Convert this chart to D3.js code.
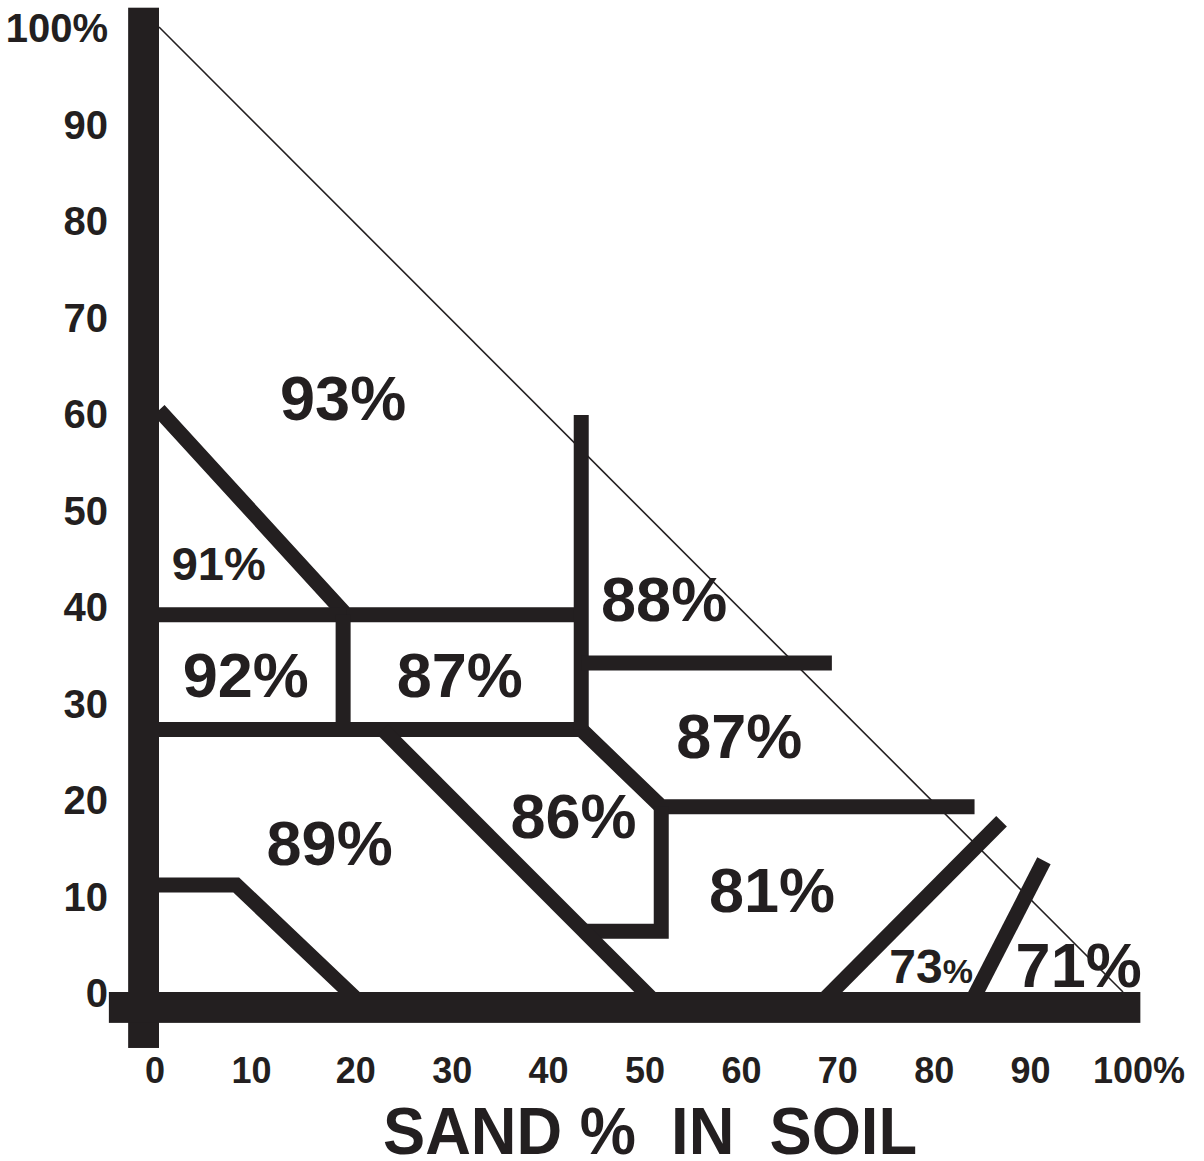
<!DOCTYPE html>
<html>
<head>
<meta charset="utf-8">
<script src="https://cdn.jsdelivr.net/npm/d3@7"></script>
<style>
  html, body { margin: 0; padding: 0; background: #fff; }
  svg { display: block; }
  text { font-family: "Liberation Sans", Arial, Helvetica, sans-serif; font-weight: bold; fill: #231f20; }
</style>
</head>
<body>
<svg id="chart" width="1204" height="1161"></svg>
<script>
// ---- data (sand %, clay %) ----
const yTicks = [0, 10, 20, 30, 40, 50, 60, 70, 80, 90, 100];
const yTickLabels = ["0", "10", "20", "30", "40", "50", "60", "70", "80", "90", "100%"];
const xTicks = [0, 10, 20, 30, 40, 50, 60, 70, 80, 90, 100];
const xTickLabels = ["0", "10", "20", "30", "40", "50", "60", "70", "80", "90", "100%"];
const xTitle = "SAND %  IN  SOIL";

// limit line: sand + clay = 100
const limitLine = [[0, 100], [100, 0]];

// zone boundary polylines
const boundaries = [
  [[0, 60.3], [19.4, 39.1], [43.8, 39.1]],
  [[0, 39.1], [19.4, 39.1]],
  [[19.1, 39.1], [19.1, 27.2]],
  [[0, 27.2], [43.8, 27.2], [52.1, 19.2], [84.6, 19.2]],
  [[43.8, 59.8], [43.8, 27.2]],
  [[43.8, 34.1], [69.8, 34.1]],
  [[44.0, 6.3], [52.1, 6.3], [52.1, 19.2]],
  [[23.2, 27.2], [51.4, -1]],
  [[0, 11.1], [8.0, 11.1], [20.75, -1]],
  [[68.8, -1], [87.4, 17.7]],
  [[84.3, -1], [91.8, 13.6]]
];

// zone labels: text, sand, clay (baseline), size class
const zoneLabels = ["93%", "91%", "92%", "87%", "88%", "87%", "86%", "89%", "81%", "71%"];
const zoneSand   = [19.1, 6.2, 9.0, 31.2, 52.4, 60.2, 43.0, 17.7, 63.6, 95.4];
const zoneClay   = [59.3, 42.7, 30.6, 30.6, 38.4, 24.3, 16.0, 13.2, 8.3, 0.5];
const zoneSize   = ["big", "small", "big", "big", "big", "big", "big", "big", "big", "big"];
// special label with small percent sign
const smallLabel = { num: "73", pct: "%", sand: 80.1, clay: 0.9 };

// axis bar extents (data units)
const yAxisBar = { sand: [-3.2, 0], clay: [-5.8, 102.0] };
const xAxisBar = { sand: [-5.2, 101.8], clay: [-3.2, 0] };

// ---- drawing ----
const ink = "#231f20";
const svg = d3.select("#chart");
const x = d3.scaleLinear().domain([0, 100]).range([159, 1123]);
const y = d3.scaleLinear().domain([0, 100]).range([992, 27]);
const line = d3.line().x(d => x(d[0])).y(d => y(d[1]));

// thin limit diagonal
svg.append("path").attr("d", line(limitLine))
  .attr("fill", "none").attr("stroke", ink).attr("stroke-width", 1.6);

// boundaries
svg.append("g").selectAll("path").data(boundaries).join("path")
  .attr("d", line)
  .attr("fill", "none").attr("stroke", ink)
  .attr("stroke-width", 15)
  .attr("stroke-linejoin", "miter")
  .attr("stroke-miterlimit", 10)
  .attr("stroke-linecap", "butt");

// axis bars
svg.append("rect")
  .attr("x", x(yAxisBar.sand[0])).attr("width", x(yAxisBar.sand[1]) - x(yAxisBar.sand[0]))
  .attr("y", y(yAxisBar.clay[1])).attr("height", y(yAxisBar.clay[0]) - y(yAxisBar.clay[1]))
  .attr("fill", ink);
svg.append("rect")
  .attr("x", x(xAxisBar.sand[0])).attr("width", x(xAxisBar.sand[1]) - x(xAxisBar.sand[0]))
  .attr("y", y(xAxisBar.clay[1])).attr("height", y(xAxisBar.clay[0]) - y(xAxisBar.clay[1]))
  .attr("fill", ink);

// y tick labels
svg.append("g").selectAll("text").data(yTicks).join("text")
  .attr("x", 108)
  .attr("y", d => y(d) + 1)
  .attr("dy", "0.36em")
  .attr("text-anchor", "end")
  .attr("font-size", 40)
  .text((d, i) => yTickLabels[i]);

// x tick labels
svg.append("g").selectAll("text").data(xTicks).join("text")
  .attr("x", (d, i) => i === xTicks.length - 1 ? x(d) - 30 : x(d) + (d < 20 ? -4 : 4))
  .attr("y", 1083)
  .attr("text-anchor", (d, i) => i === xTicks.length - 1 ? "start" : "middle")
  .attr("font-size", 36)
  .text((d, i) => xTickLabels[i]);

// title
svg.append("text")
  .attr("x", 383).attr("y", 1154)
  .attr("xml:space", "preserve")
  .style("white-space", "pre")
  .attr("font-size", 66)
  .attr("textLength", 534)
  .attr("lengthAdjust", "spacingAndGlyphs")
  .text(xTitle);

// zone labels
svg.append("g").selectAll("text").data(zoneLabels).join("text")
  .attr("x", (d, i) => x(zoneSand[i]))
  .attr("y", (d, i) => y(zoneClay[i]))
  .attr("text-anchor", "middle")
  .attr("font-size", (d, i) => zoneSize[i] === "big" ? 63 : 47)
  .text(d => d);

// 73% with small percent sign
const t73 = svg.append("text")
  .attr("x", x(smallLabel.sand)).attr("y", y(smallLabel.clay))
  .attr("text-anchor", "middle");
t73.append("tspan").attr("font-size", 48).text(smallLabel.num);
t73.append("tspan").attr("font-size", 34).text(smallLabel.pct);
</script>
</body>
</html>
